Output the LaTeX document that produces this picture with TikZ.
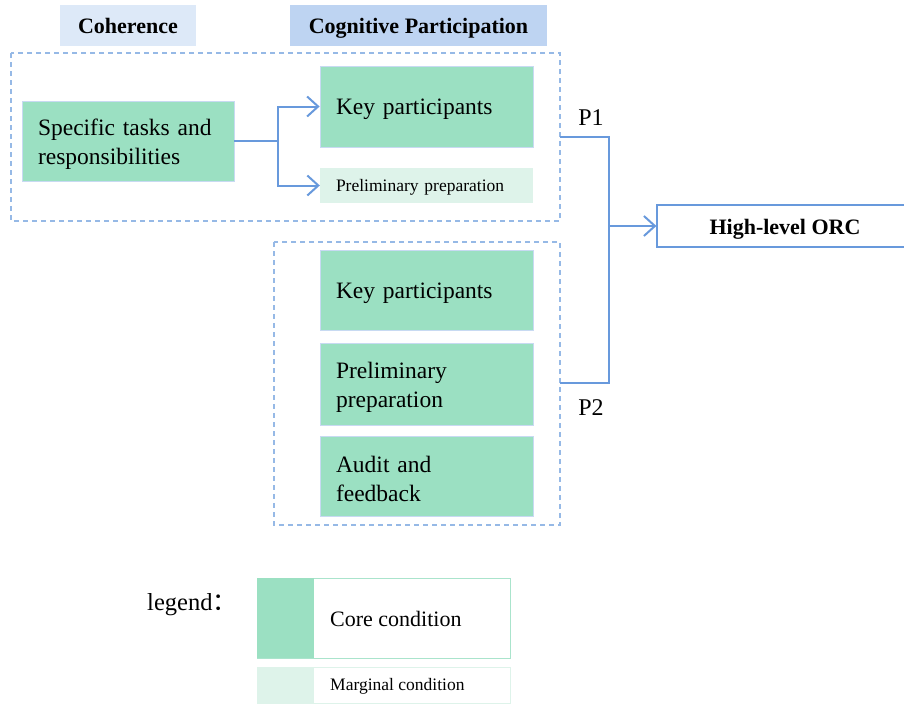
\documentclass[tikz,border=0pt]{standalone}
\usepackage{fontspec}
\setmainfont{Liberation Serif}
\newfontfamily\cjk{Noto Sans CJK SC}
\usetikzlibrary{arrows.meta}
\definecolor{coregreen}{RGB}{155,224,194}
\definecolor{marggreen}{RGB}{222,243,234}
\definecolor{hdrA}{RGB}{221,233,248}
\definecolor{hdrB}{RGB}{190,212,242}
\definecolor{linkblue}{RGB}{104,153,220}
\definecolor{dashblue}{RGB}{150,185,230}
\definecolor{edgeblue}{RGB}{200,218,242}
\definecolor{legedge}{RGB}{170,228,204}
\tikzset{
  corebox/.style={fill=coregreen, draw=edgeblue, line width=0.8pt, inner xsep=16pt, inner ysep=0pt,
    align=left, font=\fontsize{23.5}{29}\selectfont, anchor=center,
    execute at begin node={\rule{0pt}{22pt}}},
  margbox/.style={fill=marggreen, draw=none, inner xsep=16pt, inner ysep=0pt,
    align=left, font=\fontsize{17.5}{20}\selectfont,
    execute at begin node={\rule{0pt}{16pt}}},
  hdr/.style={inner sep=0pt, text height=16pt, text depth=0pt, font=\bfseries\fontsize{22}{24}\selectfont},
  grp/.style={draw=dashblue, line width=1.5pt, dash pattern=on 5pt off 4pt},
  link/.style={draw=linkblue, line width=2pt},
  arr/.style={link, -{Straight Barb[length=11pt,width=20pt,line width=2pt]}},
  plabel/.style={inner sep=0pt, font=\fontsize{24}{26}\selectfont},
}
\begin{document}
\begin{tikzpicture}[x=1pt,y=-1pt]
\useasboundingbox (0,0) rectangle (904,704);
% headers
\node[hdr, fill=hdrA, minimum width=136pt, minimum height=41pt] (hcoh) at (128,25.5) {Coherence};
\node[hdr, fill=hdrB, minimum width=257pt, minimum height=41pt] (hcog) at (418.5,25.5) {Cognitive Participation};
% group boxes
\draw[grp] (11,53) rectangle (560,221);
\draw[grp] (274,242) rectangle (560,525);
% P1 nodes
\node[corebox, text width=180pt, minimum height=80pt] (spec) at (128,141) {Specific tasks and\\responsibilities};
\node[corebox, text width=181pt, minimum height=81pt] (key1) at (426.5,106.5) {Key participants};
\node[margbox, text width=181pt, minimum height=35pt] (prep1) at (426.5,185.5) {Preliminary preparation};
% P2 nodes
\node[corebox, text width=181pt, minimum height=80pt] (key2) at (426.5,290) {Key participants};
\node[corebox, text width=181pt, minimum height=82pt] (prep2) at (426.5,384) {Preliminary\\preparation};
\node[corebox, text width=181pt, minimum height=80pt] (audit) at (426.5,476) {Audit and\\feedback};
% outcome
\node[draw=linkblue, line width=1.2pt, minimum width=256pt, minimum height=42pt, inner sep=0pt,
  text height=16pt, text depth=0pt, font=\bfseries\fontsize{22}{24}\selectfont] (orc) at (785,226) {High-level ORC};
% connectors
\coordinate (split) at (278,141);
\coordinate (p1a) at (560,137);
\coordinate (p1b) at (609,137);
\coordinate (p2a) at (560,383);
\coordinate (p2b) at (609,383);
\coordinate (join) at (609,226);
\draw[link] (spec.east) -- (split);
\draw[arr] (split) |- (key1.west);
\draw[arr] (split) |- (prep1.west);
\draw[link] (p1a) -- (p1b) -- (p2b) -- (p2a);
\draw[arr] (join) -- (orc.west);
\node[plabel] (lp1) at (591,118) {P1};
\node[plabel] (lp2) at (591,408) {P2};
% legend
\node[inner sep=0pt, font=\fontsize{24.5}{26}\selectfont, anchor=west] (leg) at (147,605) {legend{\cjk ：}};
\node[draw=legedge, line width=1pt, fill=white, minimum width=253pt, minimum height=80pt, inner sep=0pt] (lcore) at (383.5,618) {};
\fill[coregreen] (257,578) rectangle (314,658);
\node[inner sep=0pt, anchor=west, font=\fontsize{22}{24}\selectfont] (lcoret) at (330,619) {Core condition};
\node[draw=marggreen, line width=1pt, fill=white, minimum width=253pt, minimum height=36pt, inner sep=0pt] (lmarg) at (383.5,685) {};
\fill[marggreen] (257,667) rectangle (314,703);
\node[inner sep=0pt, anchor=west, font=\fontsize{17.5}{20}\selectfont] (lmargt) at (330,686) {Marginal condition};
\end{tikzpicture}
\end{document}
